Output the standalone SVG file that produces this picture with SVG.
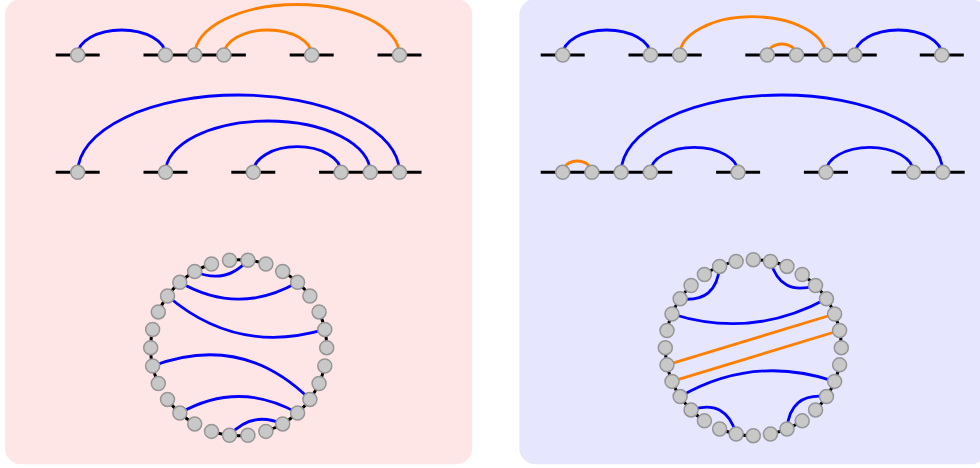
<svg xmlns="http://www.w3.org/2000/svg" width="980" height="468" viewBox="0 0 980 468">
<style>
.bb{fill:none;stroke:#000;stroke-width:3}
.b{fill:none;stroke:#0000ff;stroke-width:2.8}
.o{fill:none;stroke:#ff8000;stroke-width:2.8}
.n circle{fill:#c8c8c8;stroke:#969696;stroke-width:1.5}
</style>
<rect id="panel-left" x="5" y="-1" width="467.3" height="465.3" rx="16" fill="#ffe6e6"/>
<rect id="panel-right" x="519.3" y="-1" width="467.3" height="465.3" rx="16" fill="#e6e6ff"/>

<!-- LEFT TOP ROW -->
<g id="LT">
<g id="LT-backbone">
<line class="bb" x1="55.7" y1="55" x2="99.7" y2="55"/>
<line class="bb" x1="143.5" y1="55" x2="245.9" y2="55"/>
<line class="bb" x1="289.7" y1="55" x2="333.7" y2="55"/>
<line class="bb" x1="377.5" y1="55" x2="421.5" y2="55"/>
</g>
<g id="LT-connectors">
<path class="b" d="M77.7 55 A43.9 25 0 0 1 165.5 55"/>
<path class="o" d="M194.7 55 A102.4 50.5 0 0 1 399.5 55"/>
<path class="o" d="M223.9 55 A43.9 25 0 0 1 311.7 55"/>
</g>
<g class="n">
<g id="LT1"><circle cx="77.7" cy="55" r="7"/></g>
<g id="LT2"><circle cx="165.5" cy="55" r="7"/></g>
<g id="LT3"><circle cx="194.7" cy="55" r="7"/></g>
<g id="LT4"><circle cx="223.9" cy="55" r="7"/></g>
<g id="LT5"><circle cx="311.7" cy="55" r="7"/></g>
<g id="LT6"><circle cx="399.5" cy="55" r="7"/></g>
</g>
</g>

<!-- LEFT SECOND ROW -->
<g id="LM">
<g id="LM-backbone">
<line class="bb" x1="55.7" y1="172.3" x2="99.7" y2="172.3"/>
<line class="bb" x1="143.5" y1="172.3" x2="187.5" y2="172.3"/>
<line class="bb" x1="231.3" y1="172.3" x2="275.3" y2="172.3"/>
<line class="bb" x1="319.1" y1="172.3" x2="421.5" y2="172.3"/>
</g>
<g id="LM-connectors">
<path class="b" d="M77.7 172.3 A160.9 77.3 0 0 1 399.5 172.3"/>
<path class="b" d="M165.5 172.3 A102.4 51.3 0 0 1 370.3 172.3"/>
<path class="b" d="M253.3 172.3 A43.9 25.6 0 0 1 341.1 172.3"/>
</g>
<g class="n">
<g id="LM1"><circle cx="77.7" cy="172.3" r="7"/></g>
<g id="LM2"><circle cx="165.5" cy="172.3" r="7"/></g>
<g id="LM3"><circle cx="253.3" cy="172.3" r="7"/></g>
<g id="LM4"><circle cx="341.1" cy="172.3" r="7"/></g>
<g id="LM5"><circle cx="370.3" cy="172.3" r="7"/></g>
<g id="LM6"><circle cx="399.5" cy="172.3" r="7"/></g>
</g>
</g>

<!-- LEFT CIRCLE -->
<g id="LC" transform="translate(238.7 347.7)">
<g id="LC-backbone">
<path class="bb" d="M86.07 18.30 A88 88 0 0 1 27.19 83.69"/>
<path class="bb" d="M9.20 87.52 A88 88 0 0 1 -27.19 83.69"/>
<path class="bb" d="M-44 76.21 A88 88 0 0 1 -71.19 51.72"/>
<path class="bb" d="M-80.39 35.79 A88 88 0 0 1 -86.07 -18.30"/>
<path class="bb" d="M-80.39 -35.79 A88 88 0 0 1 -27.19 -83.69"/>
<path class="bb" d="M-9.20 -87.52 A88 88 0 0 1 27.19 -83.69"/>
<path class="bb" d="M44 -76.21 A88 88 0 0 1 71.19 -51.72"/>
<path class="bb" d="M80.39 -35.79 A88 88 0 0 1 88 0"/>
</g>
<g id="LC-connectors">
<path class="b" d="M-44 -76.21 Q-13.37 -62.89 9.20 -87.52"/>
<path class="b" d="M-58.88 -65.40 Q0 -31.6 58.88 -65.40"/>
<path class="b" d="M-71.19 -51.72 Q-1.62 7.63 86.07 -18.30"/>
<path class="b" d="M-86.07 18.30 Q3.28 -15.45 71.19 51.72"/>
<path class="b" d="M-58.88 65.40 Q0 32.2 58.88 65.40"/>
<path class="b" d="M-9.20 87.52 Q13.37 62.89 44 76.21"/>
</g>
<g class="n">
<g id="LC0"><circle cx="88" cy="0" r="7"/></g>
<g id="LC1"><circle cx="86.07" cy="18.30" r="7"/></g>
<g id="LC2"><circle cx="80.39" cy="35.79" r="7"/></g>
<g id="LC3"><circle cx="71.19" cy="51.72" r="7"/></g>
<g id="LC4"><circle cx="58.88" cy="65.40" r="7"/></g>
<g id="LC5"><circle cx="44" cy="76.21" r="7"/></g>
<g id="LC6"><circle cx="27.19" cy="83.69" r="7"/></g>
<g id="LC7"><circle cx="9.20" cy="87.52" r="7"/></g>
<g id="LC8"><circle cx="-9.20" cy="87.52" r="7"/></g>
<g id="LC9"><circle cx="-27.19" cy="83.69" r="7"/></g>
<g id="LC10"><circle cx="-44" cy="76.21" r="7"/></g>
<g id="LC11"><circle cx="-58.88" cy="65.40" r="7"/></g>
<g id="LC12"><circle cx="-71.19" cy="51.72" r="7"/></g>
<g id="LC13"><circle cx="-80.39" cy="35.79" r="7"/></g>
<g id="LC14"><circle cx="-86.07" cy="18.30" r="7"/></g>
<g id="LC15"><circle cx="-88" cy="0" r="7"/></g>
<g id="LC16"><circle cx="-86.07" cy="-18.30" r="7"/></g>
<g id="LC17"><circle cx="-80.39" cy="-35.79" r="7"/></g>
<g id="LC18"><circle cx="-71.19" cy="-51.72" r="7"/></g>
<g id="LC19"><circle cx="-58.88" cy="-65.40" r="7"/></g>
<g id="LC20"><circle cx="-44" cy="-76.21" r="7"/></g>
<g id="LC21"><circle cx="-27.19" cy="-83.69" r="7"/></g>
<g id="LC22"><circle cx="-9.20" cy="-87.52" r="7"/></g>
<g id="LC23"><circle cx="9.20" cy="-87.52" r="7"/></g>
<g id="LC24"><circle cx="27.19" cy="-83.69" r="7"/></g>
<g id="LC25"><circle cx="44" cy="-76.21" r="7"/></g>
<g id="LC26"><circle cx="58.88" cy="-65.40" r="7"/></g>
<g id="LC27"><circle cx="71.19" cy="-51.72" r="7"/></g>
<g id="LC28"><circle cx="80.39" cy="-35.79" r="7"/></g>
<g id="LC29"><circle cx="86.07" cy="-18.30" r="7"/></g>
</g>
</g>

<!-- RIGHT TOP ROW -->
<g id="RT">
<g id="RT-backbone">
<line class="bb" x1="540.7" y1="55" x2="584.7" y2="55"/>
<line class="bb" x1="628.5" y1="55" x2="701.7" y2="55"/>
<line class="bb" x1="745.3" y1="55" x2="876.8" y2="55"/>
<line class="bb" x1="919.8" y1="55" x2="963.8" y2="55"/>
</g>
<g id="RT-connectors">
<path class="b" d="M562.7 55 A43.9 25 0 0 1 650.5 55"/>
<path class="o" d="M679.7 55 A72.95 38.3 0 0 1 825.6 55"/>
<path class="o" d="M767.3 55 A14.6 11 0 0 1 796.5 55"/>
<path class="b" d="M854.8 55 A43.5 25 0 0 1 941.8 55"/>
</g>
<g class="n">
<g id="RT1"><circle cx="562.7" cy="55" r="7"/></g>
<g id="RT2"><circle cx="650.5" cy="55" r="7"/></g>
<g id="RT3"><circle cx="679.7" cy="55" r="7"/></g>
<g id="RT4"><circle cx="767.3" cy="55" r="7"/></g>
<g id="RT5"><circle cx="796.5" cy="55" r="7"/></g>
<g id="RT6"><circle cx="825.6" cy="55" r="7"/></g>
<g id="RT7"><circle cx="854.8" cy="55" r="7"/></g>
<g id="RT8"><circle cx="941.8" cy="55" r="7"/></g>
</g>
</g>

<!-- RIGHT SECOND ROW -->
<g id="RM">
<g id="RM-backbone">
<line class="bb" x1="540.7" y1="172.3" x2="672.3" y2="172.3"/>
<line class="bb" x1="716.1" y1="172.3" x2="760.1" y2="172.3"/>
<line class="bb" x1="803.9" y1="172.3" x2="847.9" y2="172.3"/>
<line class="bb" x1="891.5" y1="172.3" x2="964.7" y2="172.3"/>
</g>
<g id="RM-connectors">
<path class="o" d="M562.7 172.3 A14.6 11.3 0 0 1 591.9 172.3"/>
<path class="b" d="M621.1 172.3 A160.8 77.3 0 0 1 942.7 172.3"/>
<path class="b" d="M650.3 172.3 A43.9 25 0 0 1 738.1 172.3"/>
<path class="b" d="M825.9 172.3 A43.8 25 0 0 1 913.5 172.3"/>
</g>
<g class="n">
<g id="RM1"><circle cx="562.7" cy="172.3" r="7"/></g>
<g id="RM2"><circle cx="591.9" cy="172.3" r="7"/></g>
<g id="RM3"><circle cx="621.1" cy="172.3" r="7"/></g>
<g id="RM4"><circle cx="650.3" cy="172.3" r="7"/></g>
<g id="RM5"><circle cx="738.1" cy="172.3" r="7"/></g>
<g id="RM6"><circle cx="825.9" cy="172.3" r="7"/></g>
<g id="RM7"><circle cx="913.5" cy="172.3" r="7"/></g>
<g id="RM8"><circle cx="942.7" cy="172.3" r="7"/></g>
</g>
</g>

<!-- RIGHT CIRCLE -->
<g id="RC" transform="translate(753.3 347.7)">
<g id="RC-backbone">
<path class="bb" d="M-48.89 73.17 A88 88 0 0 1 -88 0"/>
<path class="bb" d="M-86.31 -17.17 A88 88 0 0 1 -62.23 -62.23"/>
<path class="bb" d="M-48.89 -73.17 A88 88 0 0 1 -17.17 -86.31"/>
<path class="bb" d="M0 -88 A88 88 0 0 1 33.68 -81.30"/>
<path class="bb" d="M48.89 -73.17 A88 88 0 0 1 88 0"/>
<path class="bb" d="M86.31 17.17 A88 88 0 0 1 62.23 62.23"/>
<path class="bb" d="M48.89 73.17 A88 88 0 0 1 17.17 86.31"/>
<path class="bb" d="M0 88 A88 88 0 0 1 -33.68 81.30"/>
</g>
<g id="RC-connectors">
<path class="b" d="M-33.68 -81.30 Q-36.65 -44.66 -73.17 -48.89"/>
<path class="b" d="M17.17 -86.31 Q27.24 -50.95 62.23 -62.23"/>
<path class="b" d="M-81.30 -33.68 Q-0.83 -8.47 73.17 -48.89"/>
<path class="o" d="M-86.31 17.17 L81.30 -33.68"/>
<path class="o" d="M-81.30 33.68 L86.31 -17.17"/>
<path class="b" d="M-73.17 48.89 Q0.63 6.47 81.30 33.68"/>
<path class="b" d="M-62.23 62.23 Q-27.24 50.95 -17.17 86.31"/>
<path class="b" d="M33.68 81.30 Q36.65 44.66 73.17 48.89"/>
</g>
<g class="n">
<g id="RC0"><circle cx="88" cy="0" r="7"/></g>
<g id="RC1"><circle cx="86.31" cy="17.17" r="7"/></g>
<g id="RC2"><circle cx="81.30" cy="33.68" r="7"/></g>
<g id="RC3"><circle cx="73.17" cy="48.89" r="7"/></g>
<g id="RC4"><circle cx="62.23" cy="62.23" r="7"/></g>
<g id="RC5"><circle cx="48.89" cy="73.17" r="7"/></g>
<g id="RC6"><circle cx="33.68" cy="81.30" r="7"/></g>
<g id="RC7"><circle cx="17.17" cy="86.31" r="7"/></g>
<g id="RC8"><circle cx="0" cy="88" r="7"/></g>
<g id="RC9"><circle cx="-17.17" cy="86.31" r="7"/></g>
<g id="RC10"><circle cx="-33.68" cy="81.30" r="7"/></g>
<g id="RC11"><circle cx="-48.89" cy="73.17" r="7"/></g>
<g id="RC12"><circle cx="-62.23" cy="62.23" r="7"/></g>
<g id="RC13"><circle cx="-73.17" cy="48.89" r="7"/></g>
<g id="RC14"><circle cx="-81.30" cy="33.68" r="7"/></g>
<g id="RC15"><circle cx="-86.31" cy="17.17" r="7"/></g>
<g id="RC16"><circle cx="-88" cy="0" r="7"/></g>
<g id="RC17"><circle cx="-86.31" cy="-17.17" r="7"/></g>
<g id="RC18"><circle cx="-81.30" cy="-33.68" r="7"/></g>
<g id="RC19"><circle cx="-73.17" cy="-48.89" r="7"/></g>
<g id="RC20"><circle cx="-62.23" cy="-62.23" r="7"/></g>
<g id="RC21"><circle cx="-48.89" cy="-73.17" r="7"/></g>
<g id="RC22"><circle cx="-33.68" cy="-81.30" r="7"/></g>
<g id="RC23"><circle cx="-17.17" cy="-86.31" r="7"/></g>
<g id="RC24"><circle cx="0" cy="-88" r="7"/></g>
<g id="RC25"><circle cx="17.17" cy="-86.31" r="7"/></g>
<g id="RC26"><circle cx="33.68" cy="-81.30" r="7"/></g>
<g id="RC27"><circle cx="48.89" cy="-73.17" r="7"/></g>
<g id="RC28"><circle cx="62.23" cy="-62.23" r="7"/></g>
<g id="RC29"><circle cx="73.17" cy="-48.89" r="7"/></g>
<g id="RC30"><circle cx="81.30" cy="-33.68" r="7"/></g>
<g id="RC31"><circle cx="86.31" cy="-17.17" r="7"/></g>
</g>
</g>
</svg>
